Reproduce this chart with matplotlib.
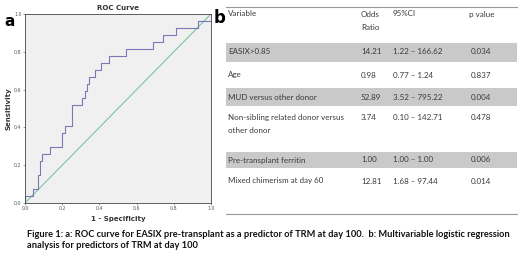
import matplotlib.pyplot as plt
from matplotlib.patches import Rectangle

# === ROC-KURVE ===
fpr = [0.0, 0.0, 0.043, 0.043, 0.07, 0.07, 0.08, 0.08, 0.09, 0.09, 0.135, 0.135,
       0.2, 0.2, 0.213, 0.213, 0.25, 0.25, 0.255, 0.255, 0.305, 0.305, 0.32, 0.32,
       0.333, 0.333, 0.346, 0.346, 0.376, 0.376, 0.41, 0.41, 0.452, 0.452,
       0.545, 0.545, 0.69, 0.69, 0.74, 0.74, 0.81, 0.81, 0.93, 0.93, 1.0, 1.0]
tpr = [0.0, 0.037, 0.037, 0.074, 0.074, 0.148, 0.148, 0.222, 0.222, 0.259, 0.259, 0.296,
       0.296, 0.370, 0.370, 0.407, 0.407, 0.444, 0.444, 0.519, 0.519, 0.556, 0.556, 0.593,
       0.593, 0.630, 0.630, 0.667, 0.667, 0.704, 0.704, 0.741, 0.741, 0.778,
       0.778, 0.815, 0.815, 0.852, 0.852, 0.889, 0.889, 0.926, 0.926, 0.963, 0.963, 1.0]
ticks = [0.0, 0.2, 0.4, 0.6, 0.8, 1.0]

# === TABELLE ===
header = ["Variable", "Odds\nRatio", "95%CI", "p value"]
variables = ["EASIX>0.85", "Age", "MUD versus other donor",
             "Non-sibling related donor versus\nother donor",
             "Pre-transplant ferritin", "Mixed chimerism at day 60"]
odds = ["14.21", "0.98", "52.89", "3.74", "1.00", "12.81"]
ci = ["1.22 \u2013 166.62", "0.77 \u2013 1.24", "3.52 \u2013 795.22",
      "0.10 \u2013 142.71", "1.00 \u2013 1.00", "1.68 \u2013 97.44"]
pvals = ["0.034", "0.837", "0.004", "0.478", "0.006", "0.014"]
shaded = [True, False, True, False, True, False]

caption = ("Figure 1: a: ROC curve for EASIX pre-transplant as a predictor of TRM at day 100.  "
           "b: Multivariable logistic regression\nanalysis for predictors of TRM at day 100")

W, H = 520, 261
fig = plt.figure(figsize=(W / 100, H / 100), dpi=100)

# --- ROC plot ---
ax = fig.add_axes([25 / W, 1 - 203 / H, 186 / W, 189 / H])
ax.set_facecolor('#f0f0f0')
ax.plot([0, 1], [0, 1], color='#7cc4a4', lw=0.8)
ax.plot(fpr, tpr, color='#7a78b8', lw=0.8)
ax.set_xlim(0, 1)
ax.set_ylim(0, 1)
ax.set_xticks(ticks)
ax.set_yticks(ticks)
ax.set_xticklabels([f"{t:.1f}" for t in ticks])
ax.set_yticklabels([f"{t:.1f}" for t in ticks])
ax.tick_params(labelsize=3.4, length=1.5, width=0.4, pad=1, colors='#555555')
for s in ax.spines.values():
    s.set_linewidth(0.6)
    s.set_color('#444444')
ax.set_title('ROC Curve', fontsize=5, fontweight='bold', pad=3, color='#333333')
ax.set_xlabel('1 - Specificity', fontsize=5, fontweight='bold', labelpad=3, color='#333333')
ax.set_ylabel('Sensitivity', fontsize=5, fontweight='bold', labelpad=2, color='#333333')

# --- Overlay in Pixelkoordinaten ---
ov = fig.add_axes([0, 0, 1, 1], facecolor='none')
ov.set_xlim(0, W)
ov.set_ylim(H, 0)
ov.axis('off')

ov.text(10, 21, 'a', fontsize=11, fontweight='bold', ha='center', va='center')
ov.text(220, 18, 'b', fontsize=12, fontweight='bold', ha='center', va='center')

tfont = dict(family='Lato', fontsize=5.8, color='#3a3a3a', va='center', ha='left')
col_x = [228, 361, 393, 469]
ov.plot([226, 517], [7, 7], color='#999999', lw=0.8)
ov.plot([226, 517], [214, 214], color='#999999', lw=0.8)
for x, h in zip(col_x, header):
    ov.text(x, 14 if '\n' not in h else 21, h, linespacing=1.9, **tfont)

row_y = [52, 75, 97, 124, 160, 181]
band = [(43, 19), None, (88, 18), None, (152, 16), None]
for i in range(len(variables)):
    if shaded[i]:
        y0, hh = band[i]
        ov.add_patch(Rectangle((226, y0), 291, hh, color='#c9c9c9', lw=0))
    ty = row_y[i]
    ov.text(col_x[0], ty, variables[i], linespacing=1.9, **tfont)
    yv = 117 if '\n' in variables[i] else ty
    ov.text(col_x[1], yv, odds[i], **tfont)
    ov.text(col_x[2], yv, ci[i], **tfont)
    ov.text(col_x[3] + 2, yv, pvals[i], **tfont)

ov.text(27, 240, caption, family='Lato', fontsize=6.7, fontweight='bold',
        ha='left', va='center', linespacing=1.35, color='#111111')

fig.savefig('out.png', dpi=100)
